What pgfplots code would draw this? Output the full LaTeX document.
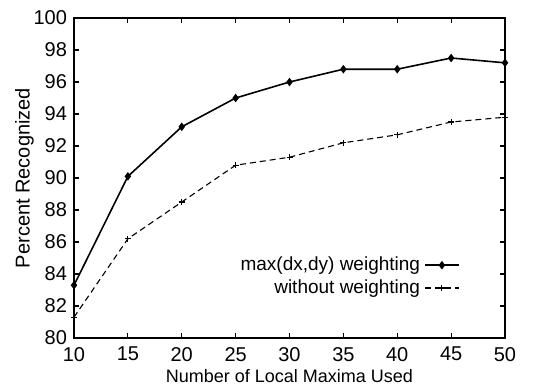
\documentclass[border=0pt]{standalone}
\usepackage{fontspec}
\setmainfont{Liberation Sans}
\usepackage{pgfplots}
\pgfplotsset{compat=1.18}
\begin{document}
\begin{tikzpicture}
\path[use as bounding box] (-37pt,-25pt) rectangle (235.5pt,169pt);
\begin{axis}[
  scale only axis,
  width=215.5pt, height=160pt,
  at={(0,0)}, anchor=south west,
  xmin=10, xmax=50, ymin=80, ymax=100,
  xtick={10,15,...,50},
  ytick={80,82,...,100},
  tick align=inside,
  major tick length=2.5pt,
  axis line style={line width=0.9pt},
  every tick/.style={black, line width=0.6pt},
  tick label style={font=\fontsize{10}{11}\selectfont},
  /pgf/number format/assume math mode=true,
  xticklabel style={yshift=-1pt},
  xlabel={Number of Local Maxima Used},
  ylabel={Percent Recognized},
  xlabel style={font=\fontsize{9}{10}\selectfont, yshift=3pt},
  ylabel style={font=\fontsize{10}{11}\selectfont, yshift=-7pt},
  legend style={draw=none, fill=none, at={(0.91,0.28)}, anchor=north east,
    font=\fontsize{9.5}{10.5}\selectfont, row sep=-1pt},
  legend plot pos=right,
  legend cell align=right,
]
\addplot[black, line width=0.8pt, mark=diamond*, mark size=1.5pt] coordinates {
  (10,83.3) (15,90.1) (20,93.2) (25,95.0) (30,96.0) (35,96.8) (40,96.8) (45,97.5) (50,97.2)
};
\addlegendentry{max(dx,dy) weighting}
\addplot[black, line width=0.55pt, densely dashed, mark=+, mark size=1.5pt, mark options={solid}] coordinates {
  (10,81.3) (15,86.2) (20,88.5) (25,90.8) (30,91.3) (35,92.2) (40,92.7) (45,93.5) (50,93.8)
};
\addlegendentry{without weighting}
\end{axis}
\end{tikzpicture}
\end{document}
